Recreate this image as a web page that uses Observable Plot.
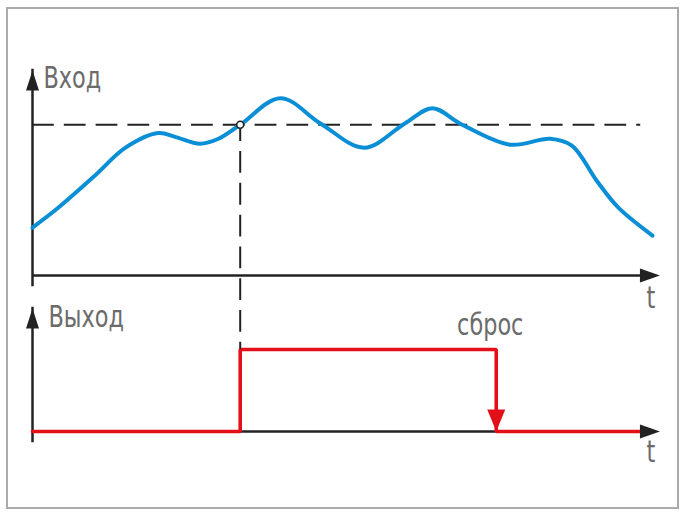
<!DOCTYPE html>
<html><head><meta charset="utf-8">
<script src="https://cdn.jsdelivr.net/npm/d3@7"></script>
<script src="https://cdn.jsdelivr.net/npm/@observablehq/plot@0.6"></script>
<style>
body{margin:0;background:#fff;}
#chart{position:relative;width:685px;height:519px;overflow:hidden;}
#frame{position:absolute;left:6px;top:7px;width:673px;height:502px;box-sizing:border-box;border:2px solid #aaa;}
#chart svg{position:absolute;left:0;}
</style></head><body><div id="chart"><div id="frame"></div></div>
<script>
// ---- data ----
const inputTime  = [0, 4, 10, 15, 20.3, 23, 27, 30, 33.5, 40, 46.5, 53.5, 60, 64.5, 69, 77, 83.5, 87, 91, 94.5, 100];
const inputLevel = [31.8, 44.4, 66, 84.8, 94.5, 92, 87.4, 90.7, 100, 117.6, 100.7, 84.8, 100.7, 111, 100.7, 86.8, 90.7, 86.1, 62.9, 45, 26.5];
const threshold = 100;
const triggerTime = 33.5;
const resetTime = 74.8;
const outputTime  = [0, triggerTime, triggerTime, resetTime, resetTime, 98.5];
const outputLevel = [0, 0, 1, 1, 0, 0];
const thresholdEnd = 98.1;
const timeArrow = 101.2;
const inputTop = 136;
const outputTop = 1.5;
const labels = {input: "Вход", output: "Выход", time: "t", reset: "сброс"};

// ---- styles ----
const axisColor = "#222";
const textColor = "#6b6b6b";
const blue = "#0a8fd6";
const red = "#e3101a";
const font = "'DejaVu Sans Condensed', 'DejaVu Sans', sans-serif";
const fontSize = 30;
const textSqueeze = 0.83;
const dash = "21.8,10";

function head(len, half, dir) {
  return {draw(ctx) {
    ctx.moveTo(0, 0);
    if (dir === "up") { ctx.lineTo(-half, len); ctx.lineTo(half, len); }
    else if (dir === "down") { ctx.lineTo(-half, -len); ctx.lineTo(half, -len); }
    else { ctx.lineTo(-len, -half); ctx.lineTo(-len, half); }
    ctx.closePath();
  }};
}

const inputData = inputTime.map((t, i) => ({t, v: inputLevel[i]}));
const outputData = outputTime.map((t, i) => ({t, v: outputLevel[i]}));

const W = 685, H = 519, bottomTop = 300, bottomH = 219;
const mL = 32, mR = 33;

// bottom (output) plot
const bottomPlot = Plot.plot({
  width: W, height: bottomH,
  marginLeft: mL, marginRight: mR, marginTop: 8, marginBottom: 88,
  x: {domain: [0, 100], axis: null},
  y: {domain: [0, outputTop], axis: null},
  style: {background: "none", overflow: "visible"},
  marks: [
    Plot.ruleY([0], {x1: 0, x2: timeArrow, stroke: axisColor, strokeWidth: 2.5, insetRight: 10}),
    Plot.ruleX([0], {y1: 0, y2: outputTop, stroke: axisColor, strokeWidth: 2.5, insetTop: 10, strokeLinecap: "square"}),
    Plot.line(outputData, {x: "t", y: "v", stroke: red, strokeWidth: 3.6, strokeLinejoin: "miter", curve: "linear"}),
    Plot.dot([{t: resetTime, v: 0}], {x: "t", y: "v", symbol: head(22, 9, "down"), fill: red, stroke: "none"}),
    Plot.dot([{t: 0, v: outputTop}], {x: "t", y: "v", symbol: head(20, 6.5, "up"), fill: axisColor, stroke: "none"}),
    Plot.dot([{t: timeArrow, v: 0}], {x: "t", y: "v", symbol: head(20, 7, "right"), fill: axisColor, stroke: "none"}),
    Plot.text([labels.output], {x: 0, y: outputTop, dx: 16, dy: -3, textAnchor: "start", lineAnchor: "top", fill: textColor, fontSize, fontFamily: font}),
    Plot.text([labels.reset], {x: resetTime, y: 1, dx: -6, dy: -36, textAnchor: "middle", lineAnchor: "top", fill: textColor, fontSize, fontFamily: font}),
    Plot.text([labels.time], {x: timeArrow, y: 0, dx: -9, dy: 9, textAnchor: "middle", lineAnchor: "top", fill: textColor, fontSize, fontFamily: font})
  ]
});
bottomPlot.style.top = bottomTop + "px";

// top (input) plot spans the full height so the drop line can reach the output level
const topMarginTop = 70, topMarginBottom = H - 275;
const yTop = Plot.scale({y: {domain: [0, inputTop], range: [H - topMarginBottom, topMarginTop]}});
const dropLevel = yTop.invert(bottomTop + bottomPlot.scale("y").apply(1));

const topPlot = Plot.plot({
  width: W, height: H,
  marginLeft: mL, marginRight: mR, marginTop: topMarginTop, marginBottom: topMarginBottom,
  x: {domain: [0, 100], axis: null},
  y: {domain: [0, inputTop], axis: null},
  style: {background: "none", overflow: "visible"},
  marks: [
    Plot.ruleY([0], {x1: 0, x2: timeArrow, stroke: axisColor, strokeWidth: 2.5, insetRight: 10}),
    Plot.ruleX([0], {y1: 0, y2: inputTop, stroke: axisColor, strokeWidth: 2.5, insetTop: 10, strokeLinecap: "square"}),
    Plot.ruleY([threshold], {x1: 0, x2: thresholdEnd, stroke: axisColor, strokeWidth: 2, strokeDasharray: dash}),
    Plot.ruleX([triggerTime], {y1: threshold, y2: dropLevel, stroke: axisColor, strokeWidth: 2, strokeDasharray: dash, strokeDashoffset: 5}),
    Plot.line(inputData, {x: "t", y: "v", stroke: blue, strokeWidth: 4, curve: "catmull-rom"}),
    Plot.dot([{t: triggerTime, v: threshold}], {x: "t", y: "v", r: 3.5, fill: "white", stroke: axisColor, strokeWidth: 1.6}),
    Plot.dot([{t: 0, v: inputTop}], {x: "t", y: "v", symbol: head(20, 6.5, "up"), fill: axisColor, stroke: "none"}),
    Plot.dot([{t: timeArrow, v: 0}], {x: "t", y: "v", symbol: head(20, 7, "right"), fill: axisColor, stroke: "none"}),
    Plot.text([labels.input], {x: 0, y: inputTop, dx: 11, dy: -4, textAnchor: "start", lineAnchor: "top", fill: textColor, fontSize, fontFamily: font}),
    Plot.text([labels.time], {x: timeArrow, y: 0, dx: -9, dy: 11, textAnchor: "middle", lineAnchor: "top", fill: textColor, fontSize, fontFamily: font})
  ]
});
topPlot.style.top = "0px";

// condense the labels horizontally around their anchors (the original uses a narrow face)
for (const svg of [bottomPlot, topPlot]) {
  d3.select(svg).selectAll("text").each(function() {
    const t = this.getAttribute("transform") || "";
    this.setAttribute("transform", (t + ` scale(${textSqueeze},1)`).trim());
  });
}

const chart = document.getElementById("chart");
chart.appendChild(bottomPlot);
chart.appendChild(topPlot);
</script>
</body></html>
